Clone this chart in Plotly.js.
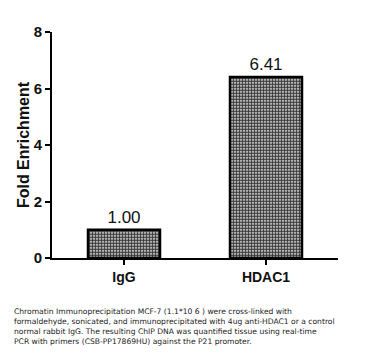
<!DOCTYPE html>
<html><head><meta charset="utf-8">
<script src="https://cdn.plot.ly/plotly-3.0.1.min.js"></script>
<style>html,body{margin:0;padding:0;background:#fff;}#chart{width:381px;height:360px;}</style>
</head><body><div id="chart"></div>
<script>
const categories = ["IgG", "HDAC1"];
const values = [1.00, 6.41];
const valueLabels = ["1.00", "6.41"];
const yTicks = [0, 2, 4, 6, 8];
const captionLines = [
  "Chromatin Immunoprecipitation MCF-7 (1.1*10 6 ) were cross-linked with",
  "formaldehyde, sonicated, and immunoprecipitated with 4ug anti-HDAC1 or a control",
  "normal rabbit IgG. The resulting ChIP DNA was quantified tissue using real-time",
  "PCR with primers (CSB-PP17869HU) against the P21 promoter."
];

const trace = {
  type: "bar",
  x: categories,
  y: values,
  width: 0.507,
  text: valueLabels,
  textposition: "outside",
  cliponaxis: false,
  textfont: {family: "Liberation Sans, Arial", size: 17, color: "#111"},
  marker: {
    color: "#ffffff",
    line: {color: "#000", width: 2.5},
    pattern: {shape: ".", size: 3, solidity: 0.7, fgcolor: "#3a3a3a", bgcolor: "#ffffff", fillmode: "replace"}
  },
  hoverinfo: "skip"
};

const plotTop = 32, plotH = 226, plotL = 52, plotW = 286;

const layout = {
  width: 381, height: 360,
  margin: {l: plotL, r: 381 - plotL - plotW, t: plotTop, b: 360 - plotTop - plotH},
  paper_bgcolor: "#fff", plot_bgcolor: "#fff",
  showlegend: false,
  bargap: 0,
  xaxis: {
    type: "category",
    range: [-0.507, 1.507],
    showline: true, linecolor: "#000", linewidth: 2,
    ticks: "outside", ticklen: 5, tickwidth: 2, tickcolor: "#000",
    tickfont: {family: "Liberation Sans, Arial", size: 14, color: "#111", weight: "bold"},
    showgrid: false, zeroline: false, fixedrange: true
  },
  yaxis: {
    range: [0, 8],
    tickvals: yTicks,
    ticktext: yTicks.map(String),
    showline: true, linecolor: "#000", linewidth: 2,
    ticks: "outside", ticklen: 5, tickwidth: 2, tickcolor: "#000",
    tickfont: {family: "Liberation Sans, Arial", size: 15, color: "#111", weight: "bold"},
    title: {text: "Fold Enrichment", font: {family: "Liberation Sans, Arial", size: 16, color: "#111", weight: "bold"}, standoff: 0},
    showgrid: false, zeroline: false, fixedrange: true
  },
  annotations: [{
    xref: "paper", yref: "paper",
    x: (13 - plotL) / plotW,
    y: 1 - (326 - plotTop) / plotH,
    xanchor: "left", yanchor: "middle", align: "left",
    showarrow: false,
    borderpad: 0,
    text: captionLines.join("<br>"),
    font: {family: "DejaVu Sans", size: 7.6, color: "#222"}
  }]
};

Plotly.newPlot("chart", [trace], layout, {displayModeBar: false, staticPlot: true});
</script></body></html>
